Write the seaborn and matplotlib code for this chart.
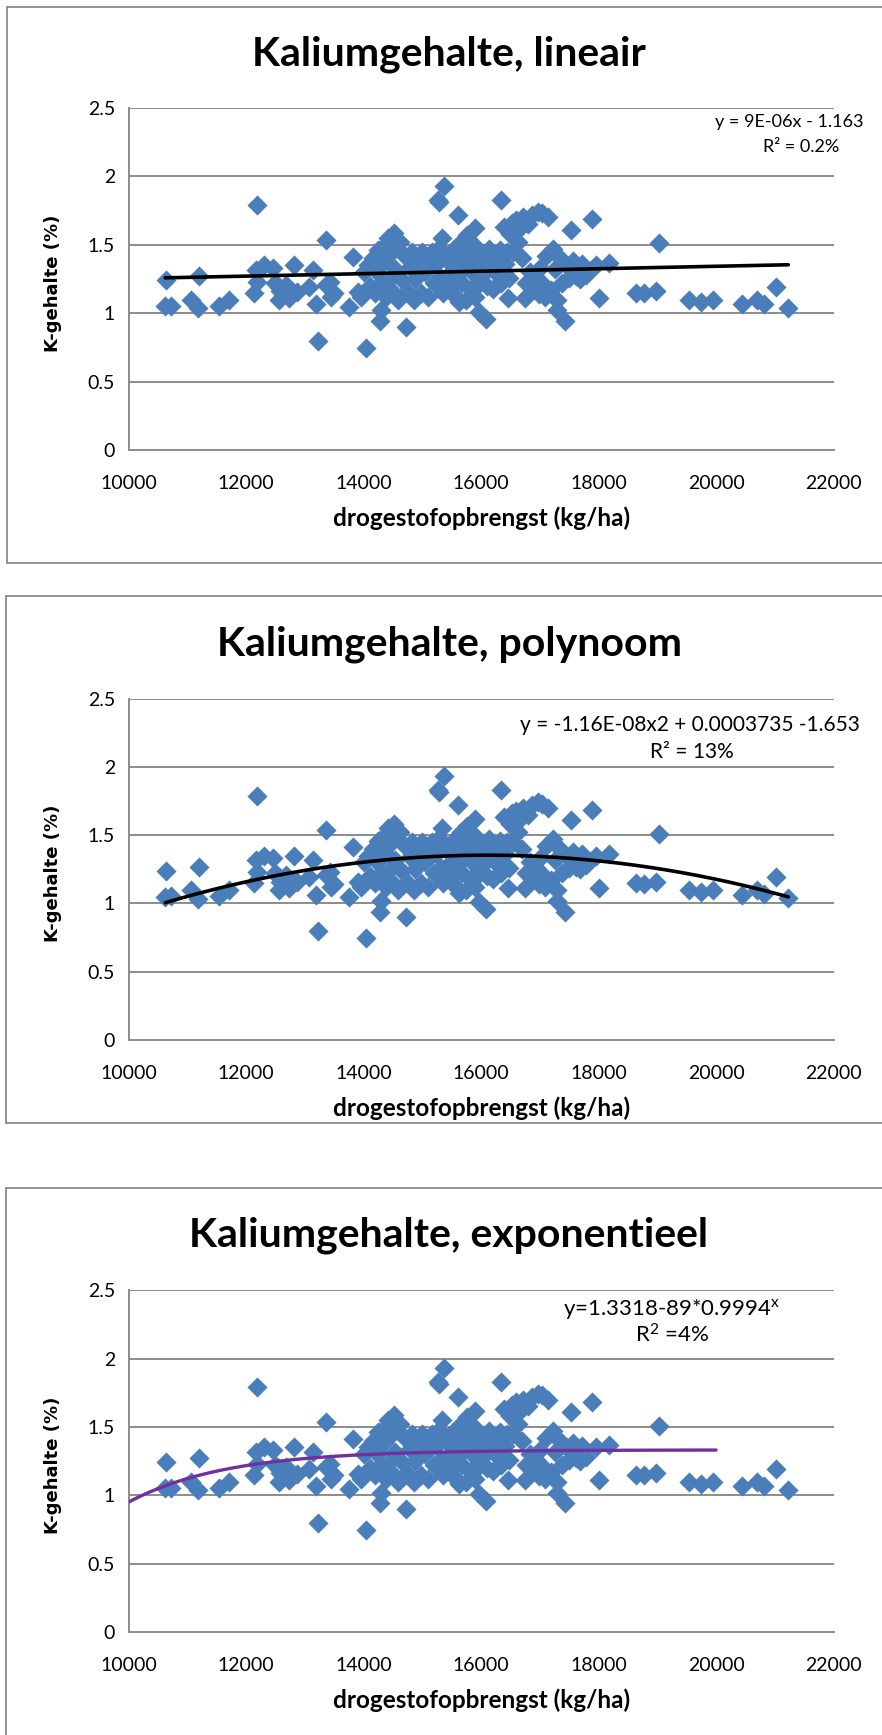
import numpy as np
import pandas as pd
import matplotlib
matplotlib.use("Agg")
import matplotlib.pyplot as plt
from matplotlib.lines import Line2D
import seaborn as sns

# ---- measurements: dry-matter yield (kg/ha) and potassium content (%) ----
yield_kg_ha = [
    # outer / isolated fields
    10620, 10640, 10720, 11060, 11170, 11190, 11530, 11700,
    12190, 12140, 12190, 12170, 12310, 12450, 12490, 12550, 12560, 12580,
    12680, 12730, 12870, 12820, 13130, 13070, 13190, 13360, 13420, 13450,
    13500, 13220, 13360, 13750, 13900, 13810,
    14040, 14280, 14300, 14720, 14520, 14420, 15290, 15260, 15370, 15340,
    15610, 15890, 15960, 16080, 16330, 16390, 16460, 16750, 17300, 17420,
    17530, 17610, 17780, 17950, 18180, 17890, 18010, 18640, 18780, 18970,
    19030, 19540, 19740, 19940, 20450, 20700, 20820, 21020, 21230,
    # central group
    13950, 14000, 14080, 14100, 14150, 14200, 14220, 14250, 14300, 14350,
    14360, 14380, 14420, 14440,
    14480, 14500, 14540, 14580, 14620, 14650, 14700, 14740, 14780, 14830,
    14850, 14880, 14930, 14970, 15000,
    15050, 15080, 15100, 15160, 15190, 15230, 15290, 15310, 15350, 15400,
    15440, 15480, 15470,
    15520, 15550, 15570, 15600, 15630, 15650, 15680, 15720, 15740, 15760,
    15800, 15820, 15850, 15880, 15900, 15950, 15980,
    16030, 16060, 16100, 16140, 16170, 16200, 16240, 16280, 16320, 16340,
    16400, 16440, 16480, 16490,
    16520, 16550, 16600, 16630, 16660, 16700, 16720, 16770, 16800, 16830,
    16860, 16880, 16930, 16960, 16980,
    17010, 17040, 17060, 17090, 17110, 17140, 17190, 17220, 17250, 17300,
    17340, 17380,
    17450, 17500, 17560, 17620, 17680, 17720,
]
k_content = [
    1.05, 1.24, 1.055, 1.10, 1.035, 1.27, 1.055, 1.10,
    1.79, 1.15, 1.23, 1.315, 1.35, 1.33, 1.22, 1.195, 1.095, 1.16,
    1.205, 1.11, 1.155, 1.35, 1.315, 1.195, 1.065, 1.205, 1.23, 1.12,
    1.145, 0.80, 1.535, 1.045, 1.155, 1.41,
    0.745, 0.94, 1.02, 0.90, 1.585, 1.55, 1.815, 1.83, 1.93, 1.55,
    1.72, 1.62, 1.01, 0.96, 1.83, 1.63, 1.11, 1.11, 1.02, 0.94,
    1.61, 1.27, 1.28, 1.35, 1.365, 1.685, 1.11, 1.15, 1.145, 1.16,
    1.51, 1.10, 1.085, 1.10, 1.065, 1.10, 1.07, 1.19, 1.04,
    1.12, 1.30, 1.35, 1.20, 1.40, 1.15, 1.30, 1.46, 1.22, 1.38,
    1.50, 1.12, 1.42, 1.25,
    1.16, 1.47, 1.32, 1.10, 1.52, 1.24, 1.42, 1.16, 1.34, 1.45,
    1.10, 1.25, 1.38, 1.15, 1.45,
    1.30, 1.40, 1.12, 1.45, 1.22, 1.36, 1.48, 1.26, 1.15, 1.40,
    1.28, 1.19, 1.37,
    1.46, 1.30, 1.12, 1.40, 1.08, 1.52, 1.22, 1.34, 1.10, 1.57,
    1.44, 1.18, 1.30, 1.50, 1.12, 1.38, 1.22,
    1.44, 1.30, 1.20, 1.47, 1.36, 1.18, 1.42, 1.28, 1.46, 1.22,
    1.36, 1.45, 1.26, 1.58,
    1.66, 1.45, 1.68, 1.52, 1.62, 1.40, 1.70, 1.22, 1.65, 1.30,
    1.72, 1.18, 1.26, 1.74, 1.14,
    1.33, 1.73, 1.21, 1.12, 1.42, 1.70, 1.17, 1.47, 1.32, 1.10,
    1.40, 1.22,
    1.35, 1.26, 1.38, 1.32, 1.25, 1.36,
]

titles = ["Kaliumgehalte, lineair", "Kaliumgehalte, polynoom", "Kaliumgehalte, exponentieel"]
equation_labels = [
    "y = 9E-06x - 1.163",
    "y = -1.16E-08x2 + 0.0003735 -1.653",
    r"y=1.3318-89*0.9994$^{x}$",
]
r2_labels = ["R² = 0.2%", "R² = 13%", r"R$^{2}$ =4%"]
x_label = "drogestofopbrengst (kg/ha)"
y_label = "K-gehalte (%)"

x_ticks = [10000, 12000, 14000, 16000, 18000, 20000, 22000]
x_tick_labels = ["10000", "12000", "14000", "16000", "18000", "20000", "22000"]
y_ticks = [0, 0.5, 1, 1.5, 2, 2.5]
y_tick_labels = ["0", "0.5", "1", "1.5", "2", "2.5"]

# trend-line coefficients
lin_coef = (9e-06, 1.163)                      # slope, intercept
poly_coef = (-1.16e-08, 0.0003735, -1.653)     # a x^2 + b x + c
exp_coef = (1.3318, 154.0, 0.9994)             # A - B * r^x
exp_range = (10000, 20000)

df = pd.DataFrame({"yield": yield_kg_ha, "k": k_content})

# ---- style ----
sns.set_style("white")
plt.rcParams["font.family"] = ["Lato", "DejaVu Sans"]
plt.rcParams["mathtext.fontset"] = "custom"
plt.rcParams["mathtext.rm"] = "Lato"
plt.rcParams["mathtext.it"] = "Lato"
plt.rcParams["mathtext.default"] = "regular"

W, H = 882, 1735
fig = plt.figure(figsize=(W / 100, H / 100), dpi=100)
fig.patch.set_facecolor("white")

def fx(px):
    return px / W

def fy(py):
    return 1 - py / H

GRID = "#8c8c8c"
MARK = "#4a7ebb"

ax_left, ax_right = 128.8, 833.5
ax_tops = [108, 698.6, 1290.2]
ax_bots = [450, 1040, 1632]
frames = [(7, 7, 563), (6, 596, 1123), (6, 1188, 1738)]
title_base = [65.5, 655.7, 1247]
xlab_y = [518, 1108, 1700]
eq_pos = [((789.5, 121.7), (801, 146.7)),
          ((690, 724.6), (692, 752.5)),
          ((672, 1309), (672, 1335))]
eq_size = [13, 15, 16]

xmin, xmax = min(yield_kg_ha), max(yield_kg_ha)

for i in range(3):
    # outer chart frame (right edge runs off the canvas)
    l, t, b = frames[i]
    for xs, ys in [((l, W + 5), (t, t)), ((l, l), (t, b)), ((l, W + 5), (b, b))]:
        fig.add_artist(Line2D([fx(v) for v in xs], [fy(v) for v in ys],
                              transform=fig.transFigure, color="#8a8a8a", lw=1.3))

    ax = fig.add_axes([fx(ax_left), fy(ax_bots[i]), fx(ax_right - ax_left),
                       (ax_bots[i] - ax_tops[i]) / H])
    ax.set_xlim(10000, 22000)
    ax.set_ylim(0, 2.5)
    ax.set_axisbelow(True)
    for yv in y_ticks[1:]:
        ax.axhline(yv, color=GRID, lw=1.4, zorder=0)

    sns.scatterplot(data=df, x="yield", y="k", marker="D", s=105, color=MARK,
                    edgecolor=MARK, linewidth=0, ax=ax, zorder=3, legend=False)

    if i == 0:
        xs = np.linspace(xmin, xmax, 50)
        ys = lin_coef[0] * xs + lin_coef[1]
        sns.lineplot(x=xs, y=ys, color="black", lw=2.6, ax=ax, zorder=4)
    elif i == 1:
        xs = np.linspace(xmin, xmax, 200)
        ys = poly_coef[0] * xs ** 2 + poly_coef[1] * xs + poly_coef[2]
        sns.lineplot(x=xs, y=ys, color="black", lw=2.6, ax=ax, zorder=4)
    else:
        xs = np.linspace(exp_range[0], exp_range[1], 200)
        ys = exp_coef[0] - exp_coef[1] * exp_coef[2] ** xs
        sns.lineplot(x=xs, y=ys, color="#7030a0", lw=2.4, ax=ax, zorder=4)

    ax.set_xticks(x_ticks)
    ax.set_xticklabels(x_tick_labels)
    ax.set_yticks(y_ticks)
    ax.set_yticklabels(y_tick_labels)
    ax.tick_params(axis="both", direction="out", length=5.8, width=1.0,
                   color=GRID, labelsize=14, labelcolor="black")
    ax.tick_params(axis="x", pad=12)
    ax.tick_params(axis="y", pad=4)
    ax.set_xlabel("")
    ax.set_ylabel("")
    for side in ["top", "right"]:
        ax.spines[side].set_visible(False)
    for side in ["left", "bottom"]:
        ax.spines[side].set_color(GRID)
        ax.spines[side].set_linewidth(1.4)

    fig.text(fx(449), fy(title_base[i]), titles[i], ha="center", va="baseline",
             fontsize=29.5, fontweight="bold", color="black")
    fig.text(fx(482), fy(xlab_y[i]), x_label, ha="center", va="center",
             fontsize=17.5, fontweight="bold", color="black")
    fig.text(fx(53), fy((ax_tops[i] + ax_bots[i]) / 2 + 4), y_label, ha="center",
             va="center", rotation=90, fontsize=13, fontweight="bold",
             family="DejaVu Sans", color="black")
    (ex, ey), (rx, ry) = eq_pos[i]
    fig.text(fx(ex), fy(ey), equation_labels[i], ha="center", va="center",
             fontsize=eq_size[i], color="black")
    fig.text(fx(rx), fy(ry), r2_labels[i], ha="center", va="center",
             fontsize=eq_size[i], color="black")

fig.savefig("out.png", dpi=100, facecolor="white")
